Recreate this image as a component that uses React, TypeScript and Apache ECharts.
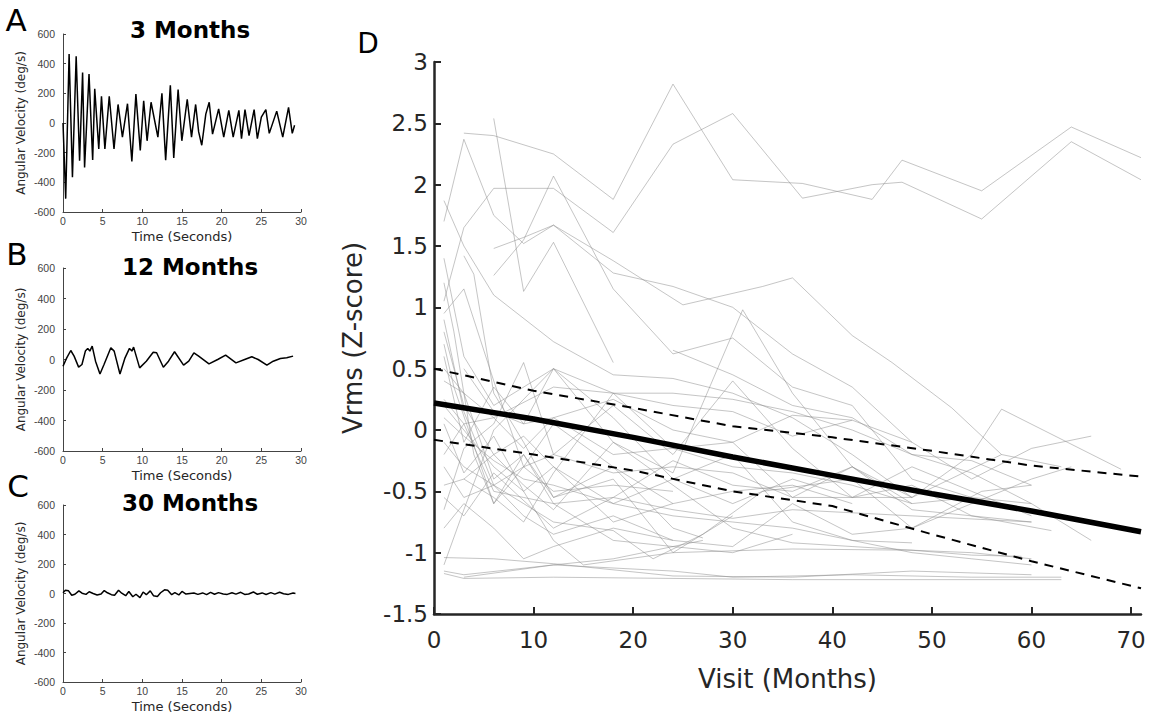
import React, { useEffect, useRef } from "react";
import * as echarts from "echarts";

// ---------- Panels A-C : angular velocity traces (time s, deg/s) ----------
const signal3Months: [number, number][] = [
  [0, 0], [0.34, -510], [0.77, 465], [1.19, -365], [1.66, 450], [2.09, -255], [2.47, 340], [2.72, -300],
  [3.28, 330], [3.74, -250], [4.0, 230], [4.51, -175], [4.85, 180], [5.28, -175], [5.83, 180], [6.43, -175],
  [6.94, 125], [7.49, -95], [8.13, 130], [8.68, -260], [9.19, 195], [9.74, -185], [10.17, 150], [10.6, -120],
  [11.1, 140], [11.96, -95], [12.47, 200], [12.94, -250], [13.53, 255], [13.96, -235], [14.51, 225], [14.98, -120],
  [15.66, 160], [16.2, -95], [16.72, 125], [17.1, -60], [17.49, -150], [18.0, 60], [18.43, 140], [18.85, -75],
  [19.62, 95], [20.26, -95], [20.9, 85], [21.45, -95], [22.17, 85], [22.5, -105], [22.94, 90], [23.45, -85],
  [24.09, 90], [24.5, -105], [25.0, 40], [25.57, 90], [26.0, -70], [26.94, 80], [27.7, -95], [28.43, 105],
  [28.9, -70], [29.19, -15],
];
const signal12Months: [number, number][] = [
  [0, -44], [0.47, 11], [0.98, 59], [1.4, 22], [1.97, -50], [2.39, -33], [2.82, 55], [3.12, 73], [3.38, 55],
  [3.68, 88], [4.1, -11], [4.66, -95], [5.17, -33], [6.03, 77], [6.45, 55], [7.18, -95], [7.82, 11], [8.38, 73],
  [8.68, 55], [8.9, 81], [9.66, -55], [10.5, -11], [11.37, 48], [11.8, 44], [12.65, -51], [13.3, -11],
  [14.06, 51], [15.2, -37], [15.85, -11], [16.5, 44], [17.1, 22], [18.4, -29], [19.5, 0], [20.5, 29],
  [21.8, -22], [22.9, 0], [23.8, 18], [24.6, 0], [25.7, -37], [26.5, -11], [27.4, 7], [28.2, 11], [29.0, 22],
];
const signal30Months: [number, number][] = [
  [0, 5], [0.3, 22], [0.7, 18], [1.1, -12], [1.5, -5], [2.0, 18], [2.4, 2], [2.9, -6], [3.3, 12], [3.8, 0],
  [4.3, -10], [4.8, -4], [5.2, 20], [5.6, 5], [6.1, -8], [6.5, -12], [7.0, 22], [7.4, 2], [7.9, -15], [8.3, 14],
  [8.8, -22], [9.2, -5], [9.7, -28], [10.1, 10], [10.5, -8], [11.0, 18], [11.4, -15], [11.9, -20], [12.3, 5],
  [12.8, 25], [13.2, 22], [13.7, -8], [14.1, 6], [14.6, -10], [15.0, 14], [15.5, -4], [16.0, 0], [16.5, 3],
  [17.0, -6], [17.6, 4], [18.1, -8], [18.6, 8], [19.1, -5], [19.6, 6], [20.2, -3], [20.7, -6], [21.3, 5],
  [21.8, -4], [22.4, 8], [22.9, -6], [23.4, -3], [24.0, 10], [24.5, -5], [25.1, 4], [25.6, -7], [26.2, 6],
  [26.7, -4], [27.3, 8], [27.8, -2], [28.4, -6], [29.0, 3], [29.3, 0],
];
const panelSignals = [signal3Months, signal12Months, signal30Months];
const panelTitles = ["3 Months", "12 Months", "30 Months"];
const panelLetters = ["A", "B", "C", "D"];

// ---------- Panel D : Vrms z-score by visit (months) ----------
const visitTicks = [0, 10, 20, 30, 40, 50, 60, 70];
const fitMonths = [0, 10, 20, 30, 40, 50, 60, 71];
const fitMean = [0.22, 0.09, -0.06, -0.22, -0.37, -0.52, -0.66, -0.83];
const fitUpper = [0.5, 0.32, 0.18, 0.03, -0.06, -0.17, -0.29, -0.38];
const fitLower = [-0.08, -0.2, -0.33, -0.5, -0.62, -0.85, -1.07, -1.29];

const subjects: [number, number][][] = [
  [[3, 2.42], [6, 2.4], [12, 2.25], [18, 1.88], [24, 2.82], [30, 2.04], [37, 2.01], [44, 1.88], [47, 2.2], [55, 1.95], [64, 2.47], [71, 2.22]],
  [[1, 1.05], [3, 1.65], [6, 1.97], [12, 1.97], [18, 1.61], [24, 2.33], [30, 2.58], [37, 1.89], [44, 2.0], [47, 2.02], [55, 1.72], [64, 2.35], [71, 2.04]],
  [[1, 1.7], [3, 2.37], [6, 1.75], [9, 1.52], [12, 1.67], [18, 1.38], [25, 1.02], [33, 1.17], [36, 1.24], [42, 0.77], [46, 0.55], [52, 0.18], [57, -0.2]],
  [[6, 2.54], [9, 1.13], [12, 1.53], [18, 0.55]],
  [[6, 1.48], [9, 1.57], [12, 1.67], [18, 1.28], [24, 1.17], [30, 1.0], [36, 0.62], [42, 0.35], [48, -0.1]],
  [[6, 1.26], [9, 1.55], [12, 2.07], [18, 1.15], [24, 0.62], [30, 0.75], [36, 0.35], [42, 0.2], [48, -0.4], [54, -0.55]],
  [[1, 1.87], [3, 1.5], [6, 1.1], [12, 0.72], [18, 0.45], [24, 0.42], [30, 0.3], [36, 0.1], [42, -0.2], [48, -0.55]],
  [[3, 1.42], [4, 1.27], [6, 0.3], [9, -0.1], [12, -0.55], [18, -0.3], [24, -0.8], [27, -0.88]],
  [[1, 1.4], [3, 0.6], [6, 0.2], [12, 0.5], [18, 0.1], [24, -0.4], [30, -0.2], [36, -0.75], [42, -0.9], [48, -0.92]],
  [[1, 0.95], [3, 1.15], [6, 0.4], [9, -0.3], [12, 0.05], [18, -0.3], [24, -0.6], [30, -0.5], [36, -0.45], [42, -0.6]],
  [[1, 0.7], [2, 0.35], [6, -0.6], [9, -0.2], [12, -0.55], [18, -0.4], [24, -1.0], [30, -0.7]],
  [[1, -0.65], [3, -0.15], [6, 0.05], [9, 0.55], [12, -0.2], [18, 0.2], [24, -0.2], [30, 0.4], [36, -0.15], [42, -0.55], [48, -0.3], [54, -0.5], [60, -0.7]],
  [[1, -1.1], [3, -0.65], [6, 0.0], [12, 0.5], [18, -0.1], [24, -0.35], [31, 0.98], [36, 0.3], [42, -0.3], [48, -0.6]],
  [[1, 0.1], [3, -0.05], [6, -0.25], [9, -0.4], [12, -0.45], [18, -0.6], [24, -0.7], [30, -0.75], [36, -0.8], [42, -0.9], [48, -1.0], [54, -1.05], [60, -1.1]],
  [[1, -1.17], [3, -1.21], [12, -1.2], [24, -1.21], [36, -1.22], [48, -1.22], [63, -1.22]],
  [[1, -1.15], [3, -1.18], [12, -1.1], [24, -1.15], [30, -1.2], [42, -1.18], [54, -1.2], [63, -1.2]],
  [[1, -1.04], [6, -1.05], [12, -1.09], [24, -1.19], [36, -1.2], [48, -1.15], [60, -1.18]],
  [[3, -1.2], [12, -1.1], [18, -1.05], [27, -0.9]],
  [[1, 0.2], [3, 0.0], [6, -0.3], [9, -0.5], [12, -0.9], [15, -1.1], [24, -1.0], [36, -0.97], [48, -0.98], [54, -1.0], [60, -1.05]],
  [[1, 0.5], [3, 0.3], [6, -0.4], [9, -0.2], [12, -0.6], [18, -0.55], [24, -0.65], [30, -0.72], [36, -0.65], [48, -0.7], [60, -0.75]],
  [[1, 0.9], [3, 0.15], [6, -0.45], [9, -0.6], [12, -0.75], [18, -0.82], [22, -1.05], [27, -0.85], [33, -0.5], [42, -0.4], [48, -0.8], [55, -0.5], [60, -0.45]],
  [[1, 0.4], [3, 0.3], [6, 0.1], [12, 0.35], [18, 0.3], [24, 0.3], [30, 0.25], [36, 0.15], [42, 0.0], [48, -0.2], [54, -0.25], [60, -0.45]],
  [[1, -0.1], [3, -0.3], [6, -0.45], [9, -0.3], [12, -0.2], [18, -0.35], [24, -0.3], [30, -0.35], [36, -0.55], [42, -0.3], [48, -0.55], [57, -0.2], [63, -0.3]],
  [[3, -0.4], [6, -0.55], [9, -0.75], [12, -0.35], [18, 0.3], [24, -0.15], [30, -0.1], [36, -0.55], [48, -0.55], [54, -0.2], [57, 0.17], [69, -0.32]],
  [[1, -0.55], [3, -0.7], [6, -0.35], [12, -0.8], [18, -0.55], [24, -0.25], [30, -0.45], [36, -0.5], [42, -0.3], [48, -0.65], [54, -0.7], [60, -0.75]],
  [[1, 0.8], [3, 0.2], [6, -0.2], [9, -0.05], [12, -0.3], [18, -0.75], [24, -0.6]],
  [[1, 0.25], [3, 0.05], [6, 0.1], [9, -0.15], [12, 0.1], [18, -0.2], [24, -0.15], [30, -0.3], [36, -0.35], [42, -0.45], [48, -0.6], [54, -0.55], [60, -0.6]],
  [[1, 1.2], [2, 0.8], [4, -0.2], [6, -0.6], [9, -0.3], [12, -0.5], [18, -0.45], [24, -0.5]],
  [[1, -0.2], [3, 0.05], [6, -0.5], [9, -0.55], [12, -0.6], [18, -0.9], [24, -0.95], [30, -1.0], [36, -0.85]],
  [[3, 0.5], [6, 0.15], [9, 0.05], [12, 0.1], [18, 0.25], [24, 0.0], [30, -0.1], [36, 0.12], [42, 0.08], [48, -0.1], [54, -0.4], [60, -0.15], [66, -0.05]],
  [[1, 0.6], [3, -0.1], [6, 0.35], [9, 0.05], [12, 0.5], [18, 0.3], [24, 0.2], [30, 0.15], [36, -0.05], [42, 0.08]],
  [[1, -0.45], [3, -0.4], [6, -0.2], [9, -0.45], [12, -0.65], [18, -0.1], [24, -0.45], [30, -0.8], [36, -0.92], [42, -0.95], [48, -0.98], [54, -1.02], [59, -1.03]],
  [[1, 0.05], [3, -0.35], [6, -0.05], [9, -0.5], [12, -0.3], [18, -0.6], [24, -0.4], [30, -0.6], [36, -0.4], [42, -0.55], [48, -0.45], [54, -0.7], [62, -0.82]],
  [[1, -0.3], [3, -0.55], [6, -0.45], [9, -0.7], [12, -0.85], [18, -0.7], [24, -0.9], [30, -0.95], [36, -0.6], [42, -0.85], [48, -0.8], [54, -0.6], [60, -0.4], [64, -0.3]],
  [[1, -0.8], [3, -0.6], [6, -0.8], [9, -1.05], [12, -0.95], [18, -0.8], [24, -0.9]],
  [[24, 0.65], [30, 0.45], [36, 0.2], [42, 0.1], [48, -0.2], [54, -0.35], [60, -0.6], [66, -0.9]],
];

const FONT = "DejaVu Sans";
const INK = "#262626";
const SMALL_INK = "#444444";

export default function App() {
  const ref = useRef<HTMLDivElement>(null);
  useEffect(() => {
    if (!ref.current) return;
    const chart = echarts.init(ref.current, undefined, { renderer: "svg" });
    const smallGrids = [
      { left: 63, top: 34, width: 238, height: 178 },
      { left: 63, top: 268, width: 238, height: 183 },
      { left: 63, top: 505, width: 238, height: 177 },
    ];
    const grids = [...smallGrids, { left: 434, top: 62, width: 707, height: 552 }];

    const xAxes: any[] = smallGrids.map((_, i) => ({
      type: "value", gridIndex: i, min: 0, max: 30, interval: 5,
      axisLine: { show: true, onZero: false, lineStyle: { color: SMALL_INK, width: 1 } },
      axisTick: { show: true, inside: true, length: 3, lineStyle: { color: SMALL_INK } },
      axisLabel: { color: SMALL_INK, fontSize: 10.5, fontFamily: "Liberation Sans", margin: 3 },
      splitLine: { show: false },
      name: "Time (Seconds)", nameLocation: "middle", nameGap: 18,
      nameTextStyle: { color: INK, fontSize: 13, fontFamily: FONT },
    }));
    const yAxes: any[] = smallGrids.map((_, i) => ({
      type: "value", gridIndex: i, min: -600, max: 600, interval: 200,
      axisLine: { show: true, onZero: false, lineStyle: { color: SMALL_INK, width: 1 } },
      axisTick: { show: true, inside: true, length: 3, lineStyle: { color: SMALL_INK } },
      axisLabel: { color: SMALL_INK, fontSize: 10.5, fontFamily: "Liberation Sans", margin: 8 },
      splitLine: { show: false },
      name: "Angular Velocity (deg/s)", nameLocation: "middle", nameGap: 36,
      nameTextStyle: { color: INK, fontSize: 12, fontFamily: FONT },
    }));
    xAxes.push({
      type: "value", gridIndex: 3, min: 0, max: 71,
      axisLine: { show: true, onZero: false, lineStyle: { color: INK, width: 2.5 } },
      axisTick: { show: true, inside: true, length: 7, customValues: visitTicks, lineStyle: { color: INK, width: 2 } },
      axisLabel: { color: INK, fontSize: 23, fontFamily: FONT, margin: 14, customValues: visitTicks },
      splitLine: { show: false },
      name: "Visit (Months)", nameLocation: "middle", nameGap: 52,
      nameTextStyle: { color: INK, fontSize: 26, fontFamily: FONT },
    });
    yAxes.push({
      type: "value", gridIndex: 3, min: -1.5, max: 3, interval: 0.5,
      axisLine: { show: true, onZero: false, lineStyle: { color: INK, width: 2.5 } },
      axisTick: { show: true, inside: true, length: 7, lineStyle: { color: INK, width: 2 } },
      axisLabel: { color: INK, fontSize: 23, fontFamily: FONT, margin: 6 },
      splitLine: { show: false },
      name: "Vrms (Z-score)", nameLocation: "middle", nameGap: 68,
      nameTextStyle: { color: INK, fontSize: 26, fontFamily: FONT },
    });

    const series: any[] = [];
    panelSignals.forEach((sig, i) => {
      series.push({
        type: "line", xAxisIndex: i, yAxisIndex: i, data: sig, symbol: "none",
        lineStyle: { color: "#000", width: 1.5 }, silent: true,
      });
    });
    subjects.forEach((s) => {
      series.push({
        type: "line", xAxisIndex: 3, yAxisIndex: 3, data: s, symbol: "none",
        lineStyle: { color: "rgba(140,140,140,0.5)", width: 1 }, silent: true, z: 1,
      });
    });
    const fitPairs = (vals: number[]) => fitMonths.map((m, i) => [m, vals[i]]);
    series.push({
      type: "line", xAxisIndex: 3, yAxisIndex: 3, data: fitPairs(fitUpper), symbol: "none",
      lineStyle: { color: "#000", width: 2, type: [9, 7] }, silent: true, z: 3,
    });
    series.push({
      type: "line", xAxisIndex: 3, yAxisIndex: 3, data: fitPairs(fitLower), symbol: "none",
      lineStyle: { color: "#000", width: 2, type: [9, 7] }, silent: true, z: 3,
    });
    series.push({
      type: "line", xAxisIndex: 3, yAxisIndex: 3, data: fitPairs(fitMean), symbol: "none",
      lineStyle: { color: "#000", width: 5.5 }, silent: true, z: 4,
    });

    const letterPos = [[16, 20], [17, 254], [18, 486], [368, 43]];
    const letterSize = [31, 31, 31, 28];
    const titleY = [30, 267, 503];
    const graphic: any[] = [];
    panelLetters.forEach((l, i) => {
      graphic.push({
        type: "text", x: letterPos[i][0], y: letterPos[i][1],
        style: { text: l, font: `${letterSize[i]}px "${FONT}"`, fill: "#000", align: "center", verticalAlign: "middle" },
      });
    });
    panelTitles.forEach((t, i) => {
      graphic.push({
        type: "text", x: 190, y: titleY[i],
        style: { text: t, font: `bold 23px "${FONT}"`, fill: "#000", align: "center", verticalAlign: "middle" },
      });
    });

    chart.setOption({
      animation: false,
      backgroundColor: "#fff",
      grid: grids,
      xAxis: xAxes,
      yAxis: yAxes,
      series,
      graphic,
    });
    return () => chart.dispose();
  }, []);
  return <div ref={ref} style={{ position: "fixed", left: 0, top: 0, width: 1153, height: 721 }} />;
}
